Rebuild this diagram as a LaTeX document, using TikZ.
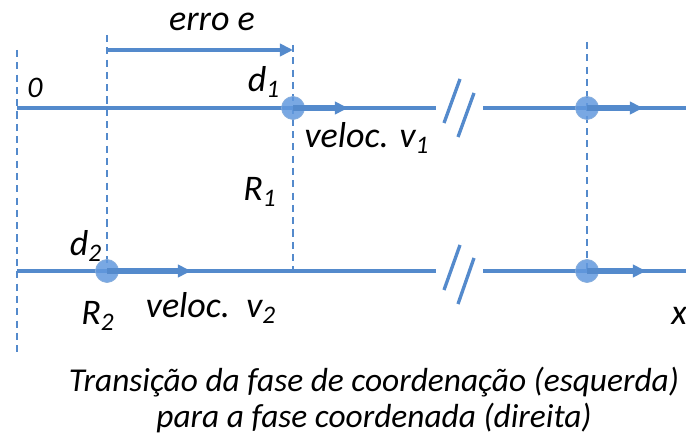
\documentclass[tikz,border=0pt]{standalone}
\usepackage{fontspec}
\setmainfont{Carlito}
\usetikzlibrary{arrows.meta,positioning}
\definecolor{lineblue}{RGB}{84,138,204}
\definecolor{ballblue}{RGB}{98,153,222}

\begin{document}
\begin{tikzpicture}[x=0.02cm,y=-0.02cm,
  axis/.style={lineblue, line width=1.9pt},
  guide/.style={lineblue, line width=1.2pt, dash pattern=on 4pt off 3pt},
  ball/.style={circle, fill=ballblue, fill opacity=0.85, draw=lineblue!70, minimum size=0.46cm, inner sep=0pt},
  vel/.style={-{Triangle[length=7.5pt,width=7pt]}, lineblue, line width=3pt},
  lbl/.style={font=\fontsize{20.5}{24}\selectfont\itshape, text=black, inner sep=0pt}]
  \useasboundingbox (0,0) rectangle (686,435);

  % Reference points
  \coordinate (o0) at (17,108);
  \coordinate (o1) at (17,271);
  \coordinate (cut1) at (436,108);
  \coordinate (go1) at (483,108);
  \coordinate (end1) at (686,108);
  \coordinate (cut2) at (436,271);
  \coordinate (go2) at (483,271);
  \coordinate (end2) at (686,271);

  % Dashed guides
  \draw[guide] (17,50) -- (17,355);
  \draw[guide] (107,35) -- (107,271);
  \draw[guide] (293,45) -- (293,271);
  \draw[guide] (587,42) -- (587,271);

  % Upper line
  \draw[axis] (o0) -- (cut1);
  \draw[axis] (go1) -- (end1);
  \draw[axis] (444,123) -- (460,79);
  \draw[axis] (458,137) -- (474,93);

  % Lower line
  \draw[axis] (o1) -- (cut2);
  \draw[axis] (go2) -- (end2);
  \draw[axis] (444,290) -- (460,245);
  \draw[axis] (458,304) -- (474,258);

  % Vehicles
  \node[ball] (car1) at (293,108) {};
  \node[ball] (car2) at (107,271) {};
  \node[ball] (car1b) at (587,108) {};
  \node[ball] (car2b) at (587,271) {};
  \coordinate (v1) at (348,108);
  \coordinate (v2) at (191,271);
  \coordinate (v1b) at (643,108);
  \coordinate (v2b) at (646,271);
  \draw[vel] (car1.center) -- (v1);
  \draw[vel] (car2.center) -- (v2);
  \draw[vel] (car1b.center) -- (v1b);
  \draw[vel] (car2b.center) -- (v2b);

  % Error arrow
  \coordinate (e0) at (107,50);
  \coordinate (e1) at (293,50);
  \draw[vel, line width=1.9pt] (e0) -- (e1);
  \node[lbl] (erro) at (212,22) {erro e};

  % Labels
  \node[lbl, font=\fontsize{17}{20}\selectfont\itshape] (zero) at (35,88) {0};
  \node[lbl] (d1) at (264,82) {d\textsubscript{1}};
  \node[lbl] (vel1) at (367,138) {veloc. v\textsubscript{1}};
  \node[lbl] (r1) at (260,192) {R\textsubscript{1}};
  \node[lbl] (d2) at (86,246) {d\textsubscript{2}};
  \node[lbl] (r2) at (98,316) {R\textsubscript{2}};
  \node[lbl] (vel2) at (211,308) {veloc.\ \ v\textsubscript{2}};
  \node[lbl, anchor=west] (xlab) at (671,316) {x};

  % Caption
  \node[font=\fontsize{19}{20.5}\selectfont\itshape, align=center, inner sep=0pt] (caption) at (374,400) {Transição da fase de coordenação (esquerda)\\para a fase coordenada (direita)};
\end{tikzpicture}
\end{document}
